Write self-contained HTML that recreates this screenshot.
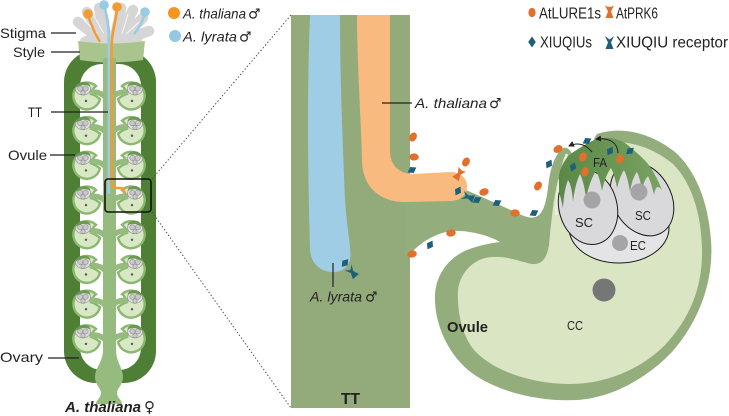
<!DOCTYPE html>
<html><head><meta charset="utf-8">
<style>
html,body{margin:0;padding:0;background:#fff;}
svg{display:block;}
text{font-family:"Liberation Sans","DejaVu Sans",sans-serif;fill:#222;}
</style></head>
<body>
<svg width="729" height="416" viewBox="0 0 729 416" xmlns="http://www.w3.org/2000/svg">
<defs>
<marker id="ah" markerWidth="7" markerHeight="7" refX="5" refY="3.5" orient="auto" markerUnits="userSpaceOnUse"><path d="M0,0.5 L6,3.5 L0,6.5 Z" fill="#222"/></marker>
<linearGradient id="fag" x1="0" y1="0" x2="1" y2="0">
<stop offset="0" stop-color="#5a8947"/><stop offset="1" stop-color="#7aa162"/></linearGradient>
<g id="ov">
 <path d="M 9,-9 A 13.5 13.5 0 1 0 13,4 Q 8,0 4,-1 Q 5,-6 9,-9 Z" fill="#d9e8c4" stroke="#8ab870" stroke-width="2.4"/>
 <path d="M 21,6 C 17,-1 12,-3 5,-3" stroke="#95bb7e" stroke-width="5.5" fill="none" stroke-linecap="round"/>
 <ellipse cx="-4" cy="-6" rx="7.5" ry="6" fill="#dedede" stroke="#8f8f8f" stroke-width="0.6"/>
 <circle cx="-6.8" cy="-6.5" r="2.6" fill="#c9c9c9" stroke="#7a7a7a" stroke-width="0.5"/>
 <circle cx="-1.4" cy="-6.5" r="2.6" fill="#c9c9c9" stroke="#7a7a7a" stroke-width="0.5"/>
 <circle cx="-4" cy="-2.2" r="2.2" fill="#c9c9c9" stroke="#7a7a7a" stroke-width="0.5"/>
 <path d="M -11.5,-7 Q -9,-14 -2,-13 Q 3,-12 3.5,-8.5 Q -3,-12 -11.5,-7 Z" fill="#6a9a52"/>
 <circle cx="-1" cy="6" r="1.2" fill="#555"/>
</g>
</defs>

<!-- ===== LEFT PISTIL ===== -->
<rect x="64" y="50" width="92" height="333" rx="32" fill="#4e7f35"/>
<rect x="80" y="64" width="61" height="306" rx="22" fill="#fff"/>
<!-- stigma -->
<g stroke="#d6d6d6" stroke-width="10.5" stroke-linecap="round" fill="none">
 <path d="M 104,42 L 78,22"/>
 <path d="M 106,42 L 87,12"/>
 <path d="M 108,42 L 99,8"/>
 <path d="M 114,42 L 121,8"/>
 <path d="M 116,42 L 133,10"/>
 <path d="M 117,42 L 143,18"/>
 <path d="M 118,42 L 149,31"/>
</g>
<g stroke="#fff" stroke-width="1" fill="none" opacity="0.8">
 <path d="M 100,36 L 84,20"/>
 <path d="M 104,34 L 93,14"/>
 <path d="M 122,34 L 128,14"/>
 <path d="M 124,36 L 139,22"/>
</g>
<ellipse cx="111" cy="40" rx="31" ry="7" fill="#d6d6d6"/>
<!-- style -->
<path d="M 78,41 Q 111,46 145,41 L 143,60 Q 111,65 80,60 Z" fill="#a9c58d"/>
<!-- column -->
<rect x="103" y="58" width="13" height="300" fill="#95bb7e"/>
<path d="M 103,350 C 103,362 95,368 95,377 C 95,385 101,388 101,393 C 101,398 96,400 96,404 L 122,404 C 122,400 117,398 117,393 C 117,388 123,385 123,377 C 123,368 116,362 116,350 Z" fill="#95bb7e"/>
<!-- ovules -->
<use href="#ov" transform="translate(87,95)"/>
<use href="#ov" transform="translate(87,129.7)"/>
<use href="#ov" transform="translate(87,164.4)"/>
<use href="#ov" transform="translate(87,199.1)"/>
<use href="#ov" transform="translate(87,233.8)"/>
<use href="#ov" transform="translate(87,268.5)"/>
<use href="#ov" transform="translate(87,303.2)"/>
<use href="#ov" transform="translate(87,337.9)"/>
<use href="#ov" transform="translate(131,95) scale(-1,1)"/>
<use href="#ov" transform="translate(131,129.7) scale(-1,1)"/>
<use href="#ov" transform="translate(131,164.4) scale(-1,1)"/>
<use href="#ov" transform="translate(131,199.1) scale(-1,1)"/>
<use href="#ov" transform="translate(131,233.8) scale(-1,1)"/>
<use href="#ov" transform="translate(131,268.5) scale(-1,1)"/>
<use href="#ov" transform="translate(131,303.2) scale(-1,1)"/>
<use href="#ov" transform="translate(131,337.9) scale(-1,1)"/>
<!-- pollen tubes left -->
<path d="M 88,16 Q 94,32 100,42" stroke="#f39a33" stroke-width="2.4" fill="none"/>
<circle cx="88" cy="14" r="4.8" fill="#f39a33"/>
<path d="M 145,14 Q 141,26 134,34" stroke="#98cbe4" stroke-width="2.4" fill="none"/>
<circle cx="145" cy="12" r="4.8" fill="#98cbe4"/>
<path d="M 104,6 C 107,16 108.8,24 108.8,36 L 108.8,194" stroke="#98cbe4" stroke-width="2.6" fill="none"/>
<circle cx="104" cy="5" r="4.8" fill="#98cbe4"/>
<path d="M 117,9 C 116,22 111.6,32 111.6,46 L 111.6,183 Q 111.6,188 116.6,188 L 121,188 Q 124,188 124,193" stroke="#f39a33" stroke-width="2.6" fill="none"/>
<circle cx="117" cy="7" r="4.8" fill="#f39a33"/>
<!-- box -->
<rect x="105" y="179" width="46" height="33" rx="3" fill="none" stroke="#111" stroke-width="1.6"/>
<!-- left labels -->
<g stroke="#222" stroke-width="1.2">
 <line x1="51" y1="33" x2="76" y2="33"/>
 <line x1="51" y1="52" x2="80" y2="52"/>
 <line x1="51" y1="112" x2="108" y2="112"/>
 <line x1="50" y1="155" x2="75" y2="155"/>
 <line x1="48" y1="358" x2="79" y2="358"/>
</g>
<text x="0" y="38" font-size="14" textLength="46" lengthAdjust="spacingAndGlyphs">Stigma</text>
<text x="13" y="57" font-size="14" textLength="32" lengthAdjust="spacingAndGlyphs">Style</text>
<text x="28" y="117" font-size="14" textLength="14" lengthAdjust="spacingAndGlyphs">TT</text>
<text x="8" y="160" font-size="14" textLength="39" lengthAdjust="spacingAndGlyphs">Ovule</text>
<text x="0" y="362" font-size="14" textLength="43" lengthAdjust="spacingAndGlyphs">Ovary</text>
<text x="65" y="412" font-size="15" font-weight="bold" font-style="italic" textLength="76" lengthAdjust="spacingAndGlyphs">A. thaliana</text>
<text x="144" y="412" font-size="15" style="font-family:'DejaVu Sans',sans-serif">♀</text>

<!-- legend left -->
<circle cx="174" cy="13" r="6" fill="#f7941d"/>
<text x="183" y="18.5" font-size="14" font-style="italic" textLength="63" lengthAdjust="spacingAndGlyphs">A. thaliana</text>
<text x="248" y="18.5" font-size="14" style="font-family:'DejaVu Sans',sans-serif">♂</text>
<circle cx="175" cy="36" r="6" fill="#94c8e2"/>
<text x="183" y="41.5" font-size="14" font-style="italic" textLength="54" lengthAdjust="spacingAndGlyphs">A. lyrata</text>
<text x="239" y="41.5" font-size="14" style="font-family:'DejaVu Sans',sans-serif">♂</text>

<!-- dotted connectors -->
<line x1="152" y1="179" x2="291" y2="15" stroke="#444" stroke-width="1" stroke-dasharray="1.3 2.2"/>
<line x1="152" y1="212" x2="291" y2="408" stroke="#444" stroke-width="1" stroke-dasharray="1.3 2.2"/>

<!-- ===== PANEL ===== -->
<rect x="291" y="15" width="119" height="393" fill="#93aa7b"/>
<!-- ovule + funiculus body -->
<path d="M 405,176 L 455,178 L 466,190 C 482,197 500,205 515,212 C 525,217 533,220 539,215 C 546,208 547,195 549,180 C 551,167 555,155 562,149 C 566,146 570,149 572,154 C 575,160 582,160 588,152 C 592,146 593,139 597,134 C 620,126 650,132 675,152 C 695,170 708,200 711,240 C 714,280 700,320 672,352 C 645,380 610,398 577,400 C 540,402 495,392 468,370 C 445,350 434,320 435,295 C 436,275 448,258 467,250 C 480,245 492,243 500,242 C 490,236 470,230 452,231 C 435,233 420,243 410,254 L 405,254 Z" fill="#94ad7d"/>
<!-- inner light green -->
<path d="M 458,290 C 460,275 470,262 485,258 C 505,254 520,262 532,264 C 542,265 547,258 549,245 C 551,225 553,200 558,180 L 604,143 C 630,139 655,149 673,164 C 691,182 701,212 702,248 C 703,287 690,318 665,345 C 640,370 605,384 570,384 C 530,384 492,370 474,350 C 462,335 457,312 458,290 Z" fill="#dae6c3"/>
<path d="M 567,154 Q 559,172 556,215" stroke="#eaf0de" stroke-width="2.5" fill="none"/>
<!-- tubes -->
<path d="M 357,15 L 390,15 L 390,150 C 390,165 398,173 412,174 L 450,172 C 462,172 468,180 467,188 C 466,197 458,201 450,201 L 405,202 C 378,202 362,185 362,160 C 361,120 357,60 357,15 Z" fill="#f9ba7f"/>
<path d="M 310,15 L 340,15 C 340,80 343,150 345,200 C 347,230 352,250 350,260 C 347,270 338,273 330,272 C 318,270 311,262 310,250 C 309,200 306,120 310,15 Z" fill="#9fcde5"/>
<!-- embryo sac -->
<ellipse cx="619" cy="228" rx="50" ry="35" fill="#e4e4e6" stroke="#1a1a1a" stroke-width="1"/>
<ellipse cx="642" cy="199" rx="29" ry="39" transform="rotate(-30 642 199)" fill="#d9d9db" stroke="#1a1a1a" stroke-width="1"/>
<ellipse cx="588" cy="207" rx="29" ry="38" transform="rotate(-15 588 207)" fill="#d9d9db" stroke="#1a1a1a" stroke-width="1"/>
<!-- FA -->
<path d="M 559,192 L 559,176 C 560,168 565,158 572,153 C 578,149 584,145 590,142 C 596,139 603,137 610,138 C 617,139 624,141 630,147 C 637,153 643,158 648,164 C 653,170 658,180 662,190 Q 656,182 654,195 Q 651,182 648,176 Q 644,180 642,190 Q 640,178 637,172 Q 632,178 630,192 Q 628,178 624,170 Q 620,176 617,188 Q 615,176 611,168 Q 605,176 602,191 Q 600,178 596,171 Q 590,180 586,198 Q 584,182 580,174 Q 575,184 573,202 Q 572,186 568,180 Q 564,190 563,208 Q 561,198 559,192 Z" fill="url(#fag)"/>
<!-- nuclei -->
<circle cx="592" cy="200" r="8.5" fill="#a5a5a7"/>
<circle cx="639" cy="192" r="8.5" fill="#a5a5a7"/>
<circle cx="620" cy="243" r="8" fill="#a5a5a7"/>
<circle cx="604" cy="290" r="11.5" fill="#767676"/>
<!-- cell labels -->
<text x="575" y="227" font-size="13" textLength="18" lengthAdjust="spacingAndGlyphs" fill="#333">SC</text>
<text x="635" y="220" font-size="13" textLength="16" lengthAdjust="spacingAndGlyphs" fill="#333">SC</text>
<text x="630" y="250" font-size="13" textLength="16" lengthAdjust="spacingAndGlyphs" fill="#333">EC</text>
<text x="593" y="167" font-size="13" textLength="14" lengthAdjust="spacingAndGlyphs" fill="#333">FA</text>
<text x="567" y="330" font-size="13" textLength="16" lengthAdjust="spacingAndGlyphs" fill="#333">CC</text>
<text x="447" y="332" font-size="15" font-weight="bold" textLength="41" lengthAdjust="spacingAndGlyphs">Ovule</text>
<text x="341" y="404" font-size="16" font-weight="bold" textLength="19" lengthAdjust="spacingAndGlyphs">TT</text>

<!-- arrows -->
<path d="M 592,152 Q 582,140 569,146" stroke="#222" stroke-width="1" fill="none" marker-end="url(#ah)"/>
<path d="M 618,153 Q 617,137 596,139" stroke="#222" stroke-width="1" fill="none" marker-end="url(#ah)"/>

<!-- receptors -->
<path d="M -4.5,-6 Q 0,-3 4.5,-6 L 1.5,0 L 4,6 L -4,6 L -1.5,0 Z" fill="#e2702b" transform="translate(459,174) rotate(35)"/>
<path d="M -4.5,-6 L 0,-2.5 L 4.5,-6 L 1.5,0 L 4,6 L -4,6 L -1.5,0 Z" fill="#1e5f7a" transform="translate(468,197) rotate(-70)"/>
<path d="M -4.5,-6 L 0,-2.5 L 4.5,-6 L 1.5,0 L 4,6 L -4,6 L -1.5,0 Z" fill="#1e5f7a" transform="translate(352,272) rotate(-40)"/>

<!-- LUREs -->
<g fill="#e2702b">
<ellipse cx="413" cy="137" rx="3.6" ry="4.8" transform="rotate(30 413 137)"/>
<ellipse cx="414" cy="157" rx="3.6" ry="4.8" transform="rotate(90 414 157)"/>
<ellipse cx="466" cy="162" rx="3.6" ry="4.8" transform="rotate(30 466 162)"/>
<ellipse cx="484" cy="192" rx="3.6" ry="4.8" transform="rotate(70 484 192)"/>
<ellipse cx="515" cy="213" rx="3.6" ry="4.8" transform="rotate(90 515 213)"/>
<ellipse cx="538" cy="186" rx="3.6" ry="4.8" transform="rotate(30 538 186)"/>
<ellipse cx="558" cy="149" rx="3.6" ry="4.8" transform="rotate(60 558 149)"/>
<ellipse cx="583" cy="157" rx="3.6" ry="4.8" transform="rotate(20 583 157)"/>
<ellipse cx="585" cy="172" rx="3.6" ry="4.8" transform="rotate(10 585 172)"/>
<ellipse cx="620" cy="159" rx="3.6" ry="4.8" transform="rotate(20 620 159)"/>
<ellipse cx="451" cy="233" rx="3.6" ry="4.8" transform="rotate(80 451 233)"/>
<ellipse cx="412" cy="254" rx="3.6" ry="4.8" transform="rotate(80 412 254)"/>
</g>
<!-- XIUQIUs -->
<g fill="#1e5f7a">
<path d="M 0,-5 L 3.5,0 L 0,5 L -3.5,0 Z" transform="translate(412,170) rotate(60)"/>
<path d="M 0,-5 L 3.5,0 L 0,5 L -3.5,0 Z" transform="translate(458,191) rotate(30)"/>
<path d="M 0,-5 L 3.5,0 L 0,5 L -3.5,0 Z" transform="translate(477,200) rotate(60)"/>
<path d="M 0,-5 L 3.5,0 L 0,5 L -3.5,0 Z" transform="translate(497,203) rotate(60)"/>
<path d="M 0,-5 L 3.5,0 L 0,5 L -3.5,0 Z" transform="translate(534,213) rotate(60)"/>
<path d="M 0,-5 L 3.5,0 L 0,5 L -3.5,0 Z" transform="translate(549,164) rotate(30)"/>
<path d="M 0,-5 L 3.5,0 L 0,5 L -3.5,0 Z" transform="translate(587,141) rotate(60)"/>
<path d="M 0,-5 L 3.5,0 L 0,5 L -3.5,0 Z" transform="translate(610,151) rotate(30)"/>
<path d="M 0,-5 L 3.5,0 L 0,5 L -3.5,0 Z" transform="translate(630,151) rotate(50)"/>
<path d="M 0,-5 L 3.5,0 L 0,5 L -3.5,0 Z" transform="translate(573,167) rotate(20)"/>
<path d="M 0,-5 L 3.5,0 L 0,5 L -3.5,0 Z" transform="translate(430,245) rotate(30)"/>
<path d="M 0,-5 L 3.5,0 L 0,5 L -3.5,0 Z" transform="translate(345,263) rotate(40)"/>
</g>

<!-- panel labels -->
<line x1="382" y1="103" x2="412" y2="103" stroke="#222" stroke-width="1.2"/>
<text x="415" y="108" font-size="14" font-style="italic" textLength="72" lengthAdjust="spacingAndGlyphs">A. thaliana</text>
<text x="489" y="108" font-size="14" style="font-family:'DejaVu Sans',sans-serif">♂</text>
<line x1="333" y1="263" x2="333" y2="287" stroke="#222" stroke-width="1.2"/>
<text x="310" y="301.5" font-size="14" font-style="italic" textLength="52" lengthAdjust="spacingAndGlyphs">A. lyrata</text>
<text x="365" y="301.5" font-size="14" style="font-family:'DejaVu Sans',sans-serif">♂</text>

<!-- legend right -->
<ellipse cx="532" cy="12.5" rx="3.6" ry="4.6" fill="#e2702b"/>
<text x="539" y="18.5" font-size="15.5" textLength="62" lengthAdjust="spacingAndGlyphs">AtLURE1s</text>
<path d="M -4.5,-6 Q 0,-3 4.5,-6 L 1.5,0 L 4,6.5 L -4,6.5 L -1.5,0 Z" fill="#e2702b" transform="translate(609.5,11.5)"/>
<text x="616" y="18.5" font-size="15.5" textLength="42" lengthAdjust="spacingAndGlyphs">AtPRK6</text>
<path d="M 0,-5.5 L 3.8,0 L 0,5.5 L -3.8,0 Z" fill="#1e5f7a" transform="translate(532,42)"/>
<text x="540" y="47.5" font-size="15.5" textLength="52" lengthAdjust="spacingAndGlyphs">XIUQIUs</text>
<path d="M -4.5,-6.5 L 0,-3 L 4.5,-6.5 L 1.5,0 L 4,6.5 L -4,6.5 L -1.5,0 Z" fill="#1e5f7a" transform="translate(609.5,42.5)"/>
<text x="616" y="47.5" font-size="15.5" textLength="112" lengthAdjust="spacingAndGlyphs">XIUQIU receptor</text>
</svg>
</body></html>
